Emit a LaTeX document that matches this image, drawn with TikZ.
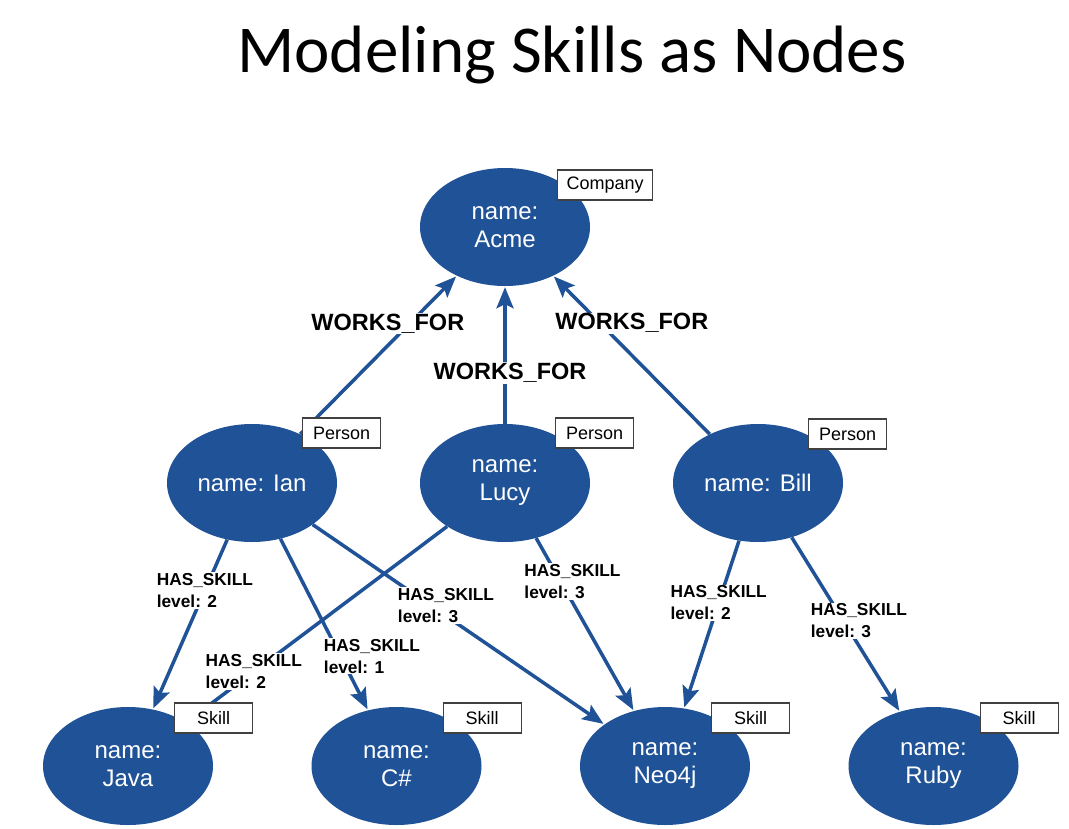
\documentclass[tikz,border=0pt]{standalone}
\usepackage{fontspec}
\setmainfont{Liberation Sans}
\newfontfamily\titlefont{Carlito}
\usetikzlibrary{arrows.meta,positioning,shapes.geometric}
\definecolor{neoblue}{RGB}{31,82,150}

\begin{document}
\begin{tikzpicture}[x=1pt,y=-1pt,->,>={Stealth[length=21pt,width=17pt,inset=4pt]},shorten >=1pt,
    every edge/.style={draw=neoblue,line width=3.5pt},
    entity/.style={ellipse,fill=neoblue,minimum width=170pt,minimum height=118pt,inner sep=0pt,
      text=white,align=center,font=\fontsize{24}{28}\selectfont},
    tag/.style={draw=black!75,line width=1.2pt,fill=white,anchor=west,minimum width=78pt,
      minimum height=30pt,inner xsep=9pt,font=\fontsize{18}{20}\selectfont},
    rel/.style={fill=white,inner sep=1pt,align=left,font=\bfseries\fontsize{17.3}{22}\selectfont},
    works/.style={rel,font=\bfseries\fontsize{23.5}{26}\selectfont}]

  \path[use as bounding box,fill=white] (0,0) rectangle (1069,828);

  \node[anchor=base,font=\titlefont\fontsize{67}{70}\selectfont] (title) at (572,72) {Modeling Skills as Nodes};

  % company and people
  \node[entity] (acme) at (505,227) {name:\\Acme};
  \node[entity] (lucy) at (505,483) {name:\\Lucy};
  \node[entity,node distance=253pt] (ian) [left of=lucy] {name: Ian};
  \node[entity,node distance=253pt] (bill) [right of=lucy] {name: Bill};

  % skills
  \node[entity] (java) at (128,766) {name:\\Java};
  \node[entity,node distance=268.5pt] (csharp) [right of=java] {name:\\C\#};
  \node[entity,node distance=268.5pt] (neo4j) [right of=csharp] {name:\\Neo4j};
  \node[entity,node distance=268.5pt] (ruby) [right of=neo4j] {name:\\Ruby};

  \path (ian) edge node[works,pos=0.63,xshift=-11pt,yshift=11pt] {WORKS\_FOR} (acme)
        (lucy) edge node[works,pos=0.37,xshift=5pt] {WORKS\_FOR} (acme)
        (bill) edge node[works,pos=0.60,xshift=16pt,yshift=16pt] {WORKS\_FOR} (acme)
        (ian) edge node[rel,pos=0.30] {HAS\_SKILL\\level: 2} (java)
              edge node[rel,pos=0.76,xshift=25pt,yshift=13pt] {HAS\_SKILL\\level: 1} (csharp)
              edge node[rel,pos=0.44,xshift=5pt,yshift=7pt] {HAS\_SKILL\\level: 3} (neo4j)
        (lucy) edge node[rel,pos=0.74] {HAS\_SKILL\\level: 2} (java)
               edge node[rel,pos=0.28,xshift=9pt,yshift=5pt] {HAS\_SKILL\\level: 3} (neo4j)
        (bill) edge node[rel,pos=0.37] {HAS\_SKILL\\level: 2} (neo4j)
               edge node[rel,pos=0.52,xshift=11pt,yshift=7pt] {HAS\_SKILL\\level: 3} (ruby);

  % labels
  \node[tag] (acmetag) at ([shift={(52,-42)}]acme.center) {Company};
  \node[tag] (iantag) at ([shift={(50,-50)}]ian.center) {Person};
  \node[tag] (lucytag) at ([shift={(50,-50)}]lucy.center) {Person};
  \node[tag] (billtag) at ([shift={(50,-49)}]bill.center) {Person};
  \node[tag] (javatag) at ([shift={(46,-48)}]java.center) {Skill};
  \node[tag] (csharptag) at ([shift={(46,-48)}]csharp.center) {Skill};
  \node[tag] (neo4jtag) at ([shift={(46,-48)}]neo4j.center) {Skill};
  \node[tag] (rubytag) at ([shift={(46,-48)}]ruby.center) {Skill};

\end{tikzpicture}
\end{document}
